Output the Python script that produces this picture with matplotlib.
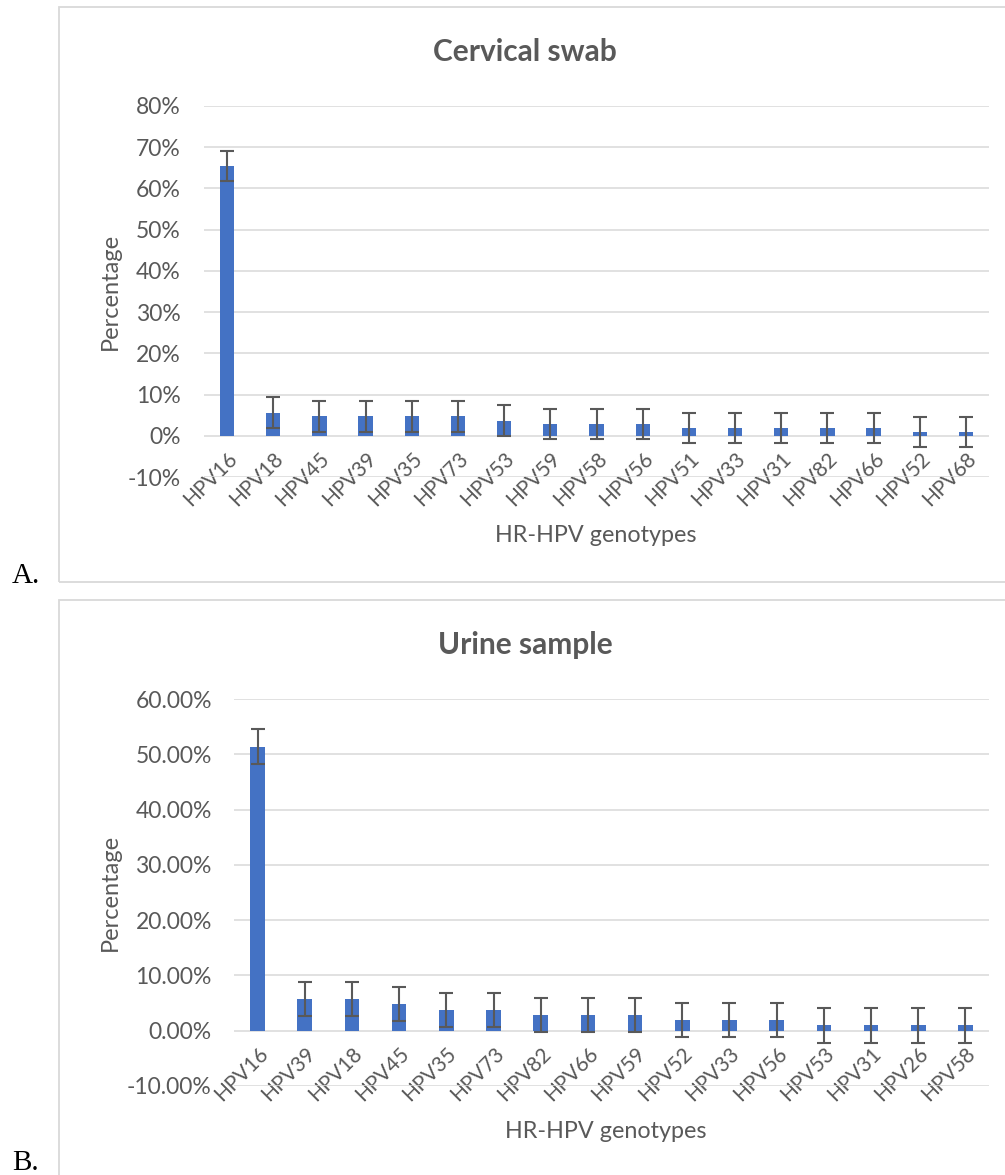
import matplotlib
matplotlib.use('Agg')
import matplotlib.pyplot as plt
from matplotlib.patches import Rectangle
from matplotlib.ticker import PercentFormatter

# panel A - cervical swab
cervical_types = ['HPV16', 'HPV18', 'HPV45', 'HPV39', 'HPV35', 'HPV73', 'HPV53', 'HPV59', 'HPV58',
                  'HPV56', 'HPV51', 'HPV33', 'HPV31', 'HPV82', 'HPV66', 'HPV52', 'HPV68']
cervical_pct = [65.4, 5.6, 4.7, 4.7, 4.7, 4.7, 3.7, 2.8, 2.8, 2.8, 1.9, 1.9, 1.9, 1.9, 1.9, 0.9, 0.9]
cervical_err = 3.7

# panel B - urine sample
urine_types = ['HPV16', 'HPV39', 'HPV18', 'HPV45', 'HPV35', 'HPV73', 'HPV82', 'HPV66', 'HPV59',
               'HPV52', 'HPV33', 'HPV56', 'HPV53', 'HPV31', 'HPV26', 'HPV58']
urine_pct = [51.4, 5.7, 5.7, 4.8, 3.8, 3.8, 2.9, 2.9, 2.9, 1.9, 1.9, 1.9, 0.95, 0.95, 0.95, 0.95]
urine_err = 3.1

W, H = 1005, 1175
BLUE = '#4472C4'
GREY = '#595959'
GRID = '#D9D9D9'
FONT = ['Lato', 'DejaVu Sans']

plt.rcParams['font.family'] = FONT
plt.rcParams['axes.unicode_minus'] = False

fig = plt.figure(figsize=(W / 100, H / 100), dpi=100)


def box(x0, y0, x1, y1):
    # pixel box (top-left origin) -> figure fraction
    return [x0 / W, 1 - y1 / H, (x1 - x0) / W, (y1 - y0) / H]


def panel(rect, types, pct, err, ylim, ticks, decimals, title, title_y, pad):
    ax = fig.add_axes(box(*rect))
    x = range(len(types))
    vals = [v / 100 for v in pct]
    ax.bar(x, vals, width=0.31, color=BLUE, zorder=3,
           yerr=err / 100, ecolor=GREY, capsize=4.7,
           error_kw={'elinewidth': 1.5, 'capthick': 1.5, 'zorder': 4})
    ax.set_xlim(-0.5, len(types) - 0.5)
    ax.set_ylim(*ylim)
    ax.set_yticks(ticks)
    ax.yaxis.set_major_formatter(PercentFormatter(1.0, decimals=decimals))
    ax.grid(axis='y', color=GRID, linewidth=1.1, zorder=0)
    for s in ['top', 'right', 'left']:
        ax.spines[s].set_visible(False)
    ax.spines['bottom'].set_position(('data', 0))
    ax.spines['bottom'].set_visible(False)
    ax.set_xticks(list(x))
    ax.set_xticklabels(types, rotation=45, ha='right', va='top', rotation_mode='anchor')
    ax.tick_params(axis='x', length=0, pad=9, labelsize=15, labelcolor=GREY)
    ax.tick_params(axis='y', length=0, pad=pad, labelsize=16.5, labelcolor=GREY)

    top = rect[1]
    bottom = rect[3]
    fig.text(525 / W, 1 - title_y / H, title, ha='center', va='center',
             fontsize=21.5, fontweight='bold', color=GREY)
    fig.text(110 / W, 1 - (top + bottom) / 2 / H, 'Percentage', rotation=90,
             ha='center', va='center', fontsize=17, color=GREY)
    return ax


panel((204, 106, 989, 477), cervical_types, cervical_pct, cervical_err,
      (-0.10, 0.80), [i / 10 for i in range(-1, 9)], 0, 'Cervical swab', 52, 17)
panel((234, 699, 989, 1086), urine_types, urine_pct, urine_err,
      (-0.10, 0.60), [i / 10 for i in range(-1, 7)], 2, 'Urine sample', 645, 16)

fig.text(596 / W, 1 - 536 / H, 'HR-HPV genotypes', ha='center', va='center', fontsize=16.8, color=GREY)
fig.text(606 / W, 1 - 1131 / H, 'HR-HPV genotypes', ha='center', va='center', fontsize=16.8, color=GREY)

# chart frames
fig.add_artist(Rectangle((59 / W, 1 - 582 / H), 1000 / W, 575 / H, transform=fig.transFigure,
                         fill=False, edgecolor=GRID, linewidth=1.3))
fig.add_artist(Rectangle((59 / W, -0.05), 1000 / W, 1 - 600 / H + 0.05, transform=fig.transFigure,
                         fill=False, edgecolor=GRID, linewidth=1.3))

fig.text(12 / W, 1 - 583 / H, 'A.', family='Liberation Serif', fontsize=21, ha='left', va='baseline')
fig.text(12 / W, 1 - 1170 / H, 'B.', family='Liberation Serif', fontsize=21, ha='left', va='baseline')

fig.savefig('out.png', dpi=100)
